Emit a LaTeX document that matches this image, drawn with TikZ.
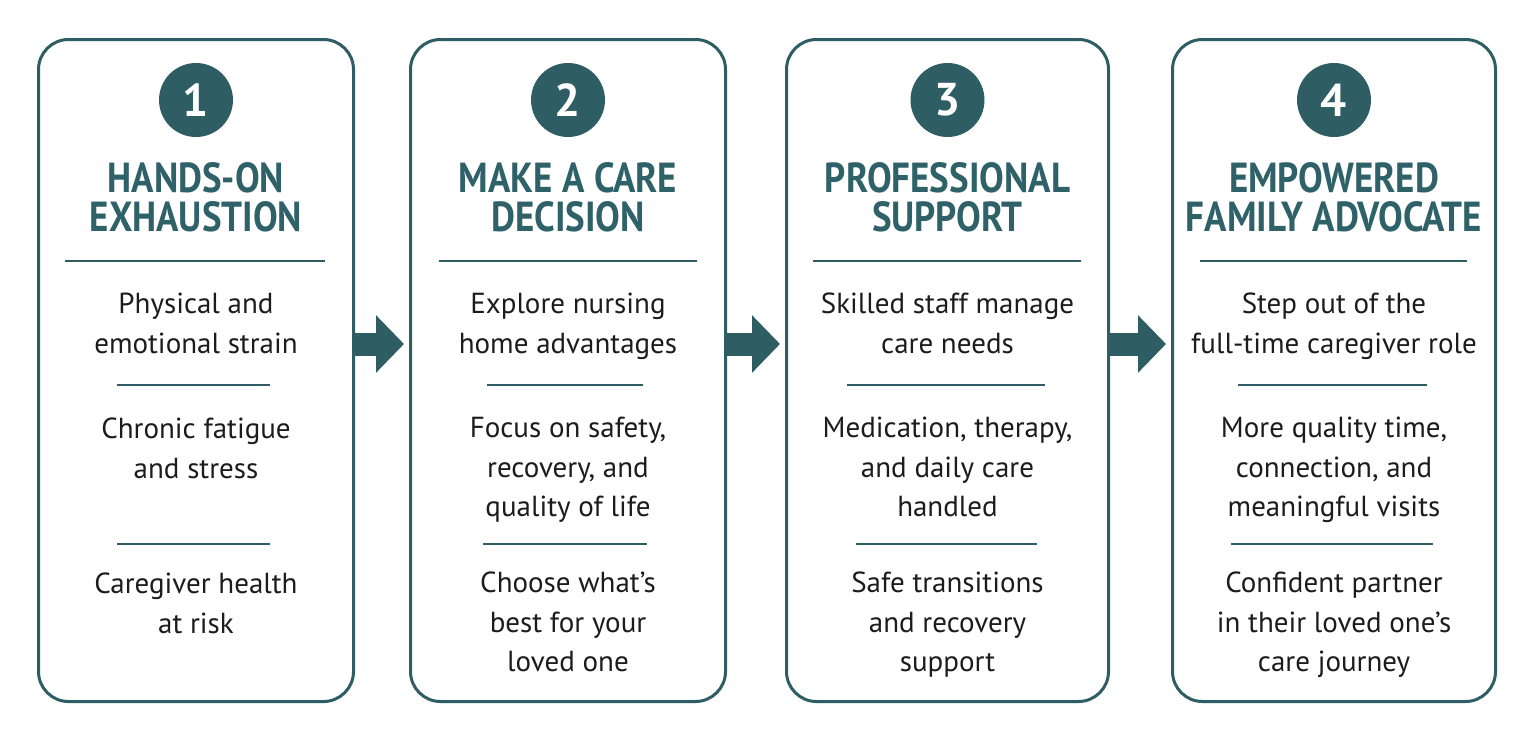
\documentclass[tikz,border=0pt]{standalone}
\usepackage{fontspec}
\setmainfont{PT Sans}
\newfontfamily\headfont{PT Sans}[FakeStretch=0.88]
\usetikzlibrary{arrows.meta, positioning}

\definecolor{careteal}{HTML}{2E5E64}
\definecolor{headteal}{HTML}{2F6168}
\definecolor{bodyink}{HTML}{1C1C1C}

\begin{document}
\begin{tikzpicture}[
  x=1pt, y=-1pt,
  card/.style={
    draw=careteal,
    fill=white,
    line width=3pt,
    rounded corners=30pt,
    minimum height=662pt,
    minimum width=#1,
    inner sep=0pt,
  },
  badge/.style={
    circle,
    fill=careteal,
    minimum size=74pt,
    inner sep=0pt,
    text=white,
    font=\fontsize{46}{46}\selectfont\bfseries,
  },
  heading/.style={
    font=\headfont\fontsize{42}{39}\selectfont\bfseries,
    text=headteal,
    align=center,
    inner sep=0pt,
  },
  body/.style={
    font=\fontsize{29}{39.5}\selectfont,
    text=bodyink,
    align=center,
    inner sep=0pt,
    text depth=0pt,
  },
  divline/.style={
    careteal,
    line width=2.5pt,
  },
  flow/.style={
    -{Triangle[length=28pt, width=56pt]},
    careteal,
    line width=23pt,
    shorten >=5pt,
  },
]

\fill[white] (0,0) rectangle (1532,740);
\useasboundingbox (0,0) rectangle (1532,740);

% ============================================================
% STEP 1: Hands-on exhaustion
% ============================================================
\node[card=315pt] (card1) at (196, 370.5) {};
\node[badge] (num1) at (196, 100) {1};
\node[heading] (head1) at (196, 197) {HANDS-ON\\EXHAUSTION};
\draw[divline] (65, 261) -- (325, 261);

\node[body] (txt1a) at (196, 323) {Physical and\\emotional strain};
\draw[divline] (117, 385) -- (270, 385);
\node[body] (txt1b) at (196, 448) {Chronic fatigue\\and stress};
\draw[divline] (117, 544) -- (270, 544);
\node[body] (txt1c) at (196, 603) {Caregiver health\\at risk};

% ============================================================
% STEP 2: Make a care decision
% ============================================================
\node[card=315pt] (card2) at (568, 370.5) {};
\node[badge] (num2) at (568, 100) {2};
\node[heading] (head2) at (568, 197) {MAKE A CARE\\DECISION};
\draw[divline] (439, 261) -- (697, 261);

\node[body] (txt2a) at (568, 323) {Explore nursing\\home advantages};
\draw[divline] (487, 385) -- (643, 385);
\node[body] (txt2b) at (568, 467) {Focus on safety,\\recovery, and\\quality of life};
\draw[divline] (483, 544) -- (647, 544);
\node[body] (txt2c) at (568, 622) {Choose what’s\\best for your\\loved one};

% ============================================================
% STEP 3: Professional support
% ============================================================
\node[card=322pt] (card3) at (947.5, 370.5) {};
\node[badge] (num3) at (947.5, 100) {3};
\node[heading] (head3) at (947.5, 197) {PROFESSIONAL\\SUPPORT};
\draw[divline] (813, 261) -- (1081, 261);

\node[body] (txt3a) at (947.5, 323) {Skilled staff manage\\care needs};
\draw[divline] (847, 385) -- (1045, 385);
\node[body] (txt3b) at (947.5, 467) {Medication, therapy,\\and daily care\\handled};
\draw[divline] (856, 544) -- (1037, 544);
\node[body] (txt3c) at (947.5, 622) {Safe transitions\\and recovery\\support};

% ============================================================
% STEP 4: Empowered family advocate
% ============================================================
\node[card=323pt] (card4) at (1334, 370.5) {};
\node[badge] (num4) at (1334, 100) {4};
\node[heading] (head4) at (1334, 197) {EMPOWERED\\FAMILY ADVOCATE};
\draw[divline] (1200, 261) -- (1467, 261);

\node[body] (txt4a) at (1334, 323) {Step out of the\\full-time caregiver role};
\draw[divline] (1238, 385) -- (1427, 385);
\node[body] (txt4b) at (1334, 467) {More quality time,\\connection, and\\meaningful visits};
\draw[divline] (1231, 544) -- (1433, 544);
\node[body] (txt4c) at (1334, 622) {Confident partner\\in their loved one’s\\care journey};

% ============================================================
% ARROWS BETWEEN STEPS
% ============================================================
\draw[flow] ([yshift=26.5pt]card1.east) -- ([yshift=26.5pt]card2.west);
\draw[flow] ([yshift=26.5pt]card2.east) -- ([yshift=26.5pt]card3.west);
\draw[flow] ([yshift=26.5pt]card3.east) -- ([yshift=26.5pt]card4.west);

\end{tikzpicture}
\end{document}
